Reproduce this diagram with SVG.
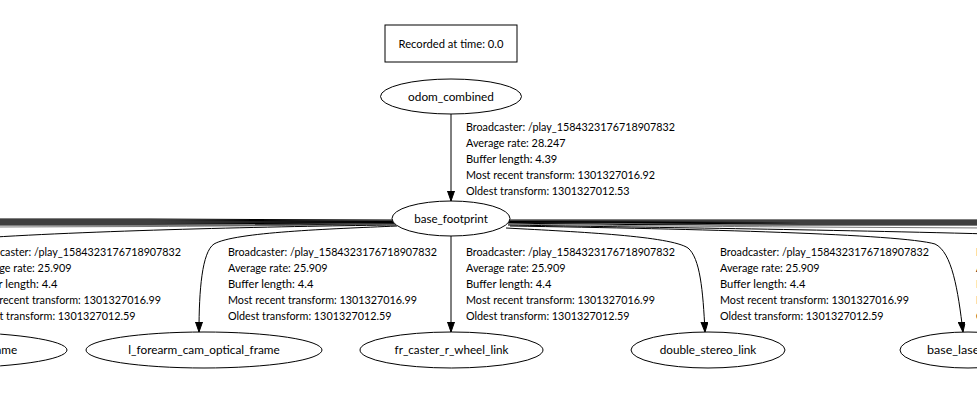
<svg xmlns="http://www.w3.org/2000/svg" width="977" height="404" viewBox="0 0 977 404">
<style>
text{font-family:Lato,"Noto Sans","Liberation Sans",sans-serif;font-size:12px;fill:#000}
.c{text-anchor:middle}
.n{fill:#fff;stroke:#000;stroke-width:1}
.e{fill:none;stroke:#000;stroke-width:1}
.b{fill:none;stroke:#000;stroke-width:1.1}
.g{fill:none;stroke:#555;stroke-width:0.8}
</style>
<defs>
<marker id="ah" markerUnits="userSpaceOnUse" markerWidth="10" markerHeight="8" refX="10" refY="3.5" orient="auto">
<path d="M0,0 L10,3.5 L0,7 z" fill="#000" stroke="#000" stroke-width="1"/>
</marker>
</defs>
<rect width="977" height="404" fill="#fff"/>
<g id="connectors">
<path class="e" d="M451,114 L451,201" marker-end="url(#ah)"/>
<g id="bundle-left">
<path class="b" d="M394,220 C330,220 250,219 150,219 L-10,219"/>
<path class="b" d="M394,221 C330,221 250,220 150,220 L-10,220"/>
<path class="b" d="M394,221.5 C330,221.5 250,221 150,221 L-10,221"/>
<path class="b" d="M394,222 C330,222 250,222 150,222 L-10,222"/>
<path class="b" d="M394,222.5 C330,223 250,223 150,223 L-10,223"/>
<path class="b" d="M394,223 C330,224 250,224 150,224 L-10,224"/>
<path class="b" d="M394,223.5 C330,225 250,225 150,225 L-10,225"/>
<path class="g" d="M395,224 C330,225 250,226 150,226.5 L-10,227"/>
<path class="e" d="M396,225 C300,226 100,230 -20,238"/>
</g>
<g id="bundle-right">
<path class="b" d="M508,220 C570,220 650,220 800,220 L987,220"/>
<path class="b" d="M508,221 C570,221 650,221 800,221 L987,221"/>
<path class="b" d="M508,221.5 C570,221.5 650,222 800,222 L987,222"/>
<path class="b" d="M508,222 C570,222 650,223 800,223 L987,223"/>
<path class="b" d="M508,222.5 C570,223 650,224 800,224 L987,224"/>
<path class="b" d="M508,223 C570,224 650,225 800,225 L987,225"/>
<path class="g" d="M508,224 C570,225 650,226 800,227 L987,228"/>
<path class="e" d="M508,225 C620,227 800,229 990,234"/>
</g>
<path class="e" d="M397,226 C330,229 235,232 214,244 C202,252 199,290 199,332" marker-end="url(#ah)"/>
<path class="e" d="M451,236 L451,332" marker-end="url(#ah)"/>
<path class="e" d="M506,228 C580,232 670,236 688,248 C700,258 703,290 705,332" marker-end="url(#ah)"/>
<path class="e" d="M510,226 C700,229 900,234 935,244 C952,252 958,290 963,332" marker-end="url(#ah)"/>
</g>
<g id="labels">
<g id="label-odom">
<text x="466" y="131" textLength="209" lengthAdjust="spacingAndGlyphs">Broadcaster: /play_1584323176718907832</text>
<text x="466" y="147" textLength="99.6" lengthAdjust="spacingAndGlyphs">Average rate: 28.247</text>
<text x="466" y="163" textLength="91.3" lengthAdjust="spacingAndGlyphs">Buffer length: 4.39</text>
<text x="466" y="179" textLength="189" lengthAdjust="spacingAndGlyphs">Most recent transform: 1301327016.92</text>
<text x="466" y="195" textLength="163.5" lengthAdjust="spacingAndGlyphs">Oldest transform: 1301327012.53</text>
</g>
<g id="label-1">
<text x="-28" y="256" textLength="209" lengthAdjust="spacingAndGlyphs">Broadcaster: /play_1584323176718907832</text>
<text x="-28" y="272" textLength="99.6" lengthAdjust="spacingAndGlyphs">Average rate: 25.909</text>
<text x="-28" y="288" textLength="85.4" lengthAdjust="spacingAndGlyphs">Buffer length: 4.4</text>
<text x="-28" y="304" textLength="189" lengthAdjust="spacingAndGlyphs">Most recent transform: 1301327016.99</text>
<text x="-28" y="320" textLength="163.5" lengthAdjust="spacingAndGlyphs">Oldest transform: 1301327012.59</text>
</g>
<g id="label-2">
<text x="228" y="256" textLength="209" lengthAdjust="spacingAndGlyphs">Broadcaster: /play_1584323176718907832</text>
<text x="228" y="272" textLength="99.6" lengthAdjust="spacingAndGlyphs">Average rate: 25.909</text>
<text x="228" y="288" textLength="85.4" lengthAdjust="spacingAndGlyphs">Buffer length: 4.4</text>
<text x="228" y="304" textLength="189" lengthAdjust="spacingAndGlyphs">Most recent transform: 1301327016.99</text>
<text x="228" y="320" textLength="163.5" lengthAdjust="spacingAndGlyphs">Oldest transform: 1301327012.59</text>
</g>
<g id="label-3">
<text x="466" y="256" textLength="209" lengthAdjust="spacingAndGlyphs">Broadcaster: /play_1584323176718907832</text>
<text x="466" y="272" textLength="99.6" lengthAdjust="spacingAndGlyphs">Average rate: 25.909</text>
<text x="466" y="288" textLength="85.4" lengthAdjust="spacingAndGlyphs">Buffer length: 4.4</text>
<text x="466" y="304" textLength="189" lengthAdjust="spacingAndGlyphs">Most recent transform: 1301327016.99</text>
<text x="466" y="320" textLength="163.5" lengthAdjust="spacingAndGlyphs">Oldest transform: 1301327012.59</text>
</g>
<g id="label-4">
<text x="720" y="256" textLength="209" lengthAdjust="spacingAndGlyphs">Broadcaster: /play_1584323176718907832</text>
<text x="720" y="272" textLength="99.6" lengthAdjust="spacingAndGlyphs">Average rate: 25.909</text>
<text x="720" y="288" textLength="85.4" lengthAdjust="spacingAndGlyphs">Buffer length: 4.4</text>
<text x="720" y="304" textLength="189" lengthAdjust="spacingAndGlyphs">Most recent transform: 1301327016.99</text>
<text x="720" y="320" textLength="163.5" lengthAdjust="spacingAndGlyphs">Oldest transform: 1301327012.59</text>
</g>
<g id="label-5">
<text x="976" y="256" textLength="209" lengthAdjust="spacingAndGlyphs">Broadcaster: /play_1584323176718907832</text>
<text x="976" y="272" textLength="99.6" lengthAdjust="spacingAndGlyphs">Average rate: 25.909</text>
<text x="976" y="288" textLength="85.4" lengthAdjust="spacingAndGlyphs">Buffer length: 4.4</text>
<text x="976" y="304" textLength="189" lengthAdjust="spacingAndGlyphs">Most recent transform: 1301327016.99</text>
<text x="976" y="320" textLength="163.5" lengthAdjust="spacingAndGlyphs">Oldest transform: 1301327012.59</text>
</g>
</g>
<g id="recorded">
<rect class="n" x="385" y="25" width="132" height="37"/>
<text class="c" x="451" y="48" textLength="105" lengthAdjust="spacingAndGlyphs">Recorded at time: 0.0</text>
</g>
<g id="odom_combined">
<ellipse class="n" cx="451" cy="96.5" rx="70.5" ry="17.5"/>
<text class="c" x="451" y="101" textLength="85.8" lengthAdjust="spacingAndGlyphs">odom_combined</text>
</g>
<g id="base_footprint">
<ellipse class="n" cx="451" cy="218.5" rx="59" ry="17.5"/>
<text class="c" x="451" y="223" textLength="73.6" lengthAdjust="spacingAndGlyphs">base_footprint</text>
</g>
<g id="r_forearm_cam_optical_frame">
<ellipse class="n" cx="-59" cy="350" rx="126" ry="18"/>
<text class="c" x="-59" y="354" textLength="152.4" lengthAdjust="spacingAndGlyphs">r_forearm_cam_optical_frame</text>
</g>
<g id="l_forearm_cam_optical_frame">
<ellipse class="n" cx="204" cy="350" rx="118" ry="18"/>
<text class="c" x="204" y="354" textLength="151.4" lengthAdjust="spacingAndGlyphs">l_forearm_cam_optical_frame</text>
</g>
<g id="fr_caster_r_wheel_link">
<ellipse class="n" cx="451.5" cy="350" rx="91.5" ry="18"/>
<text class="c" x="451.5" y="354" textLength="113.8" lengthAdjust="spacingAndGlyphs">fr_caster_r_wheel_link</text>
</g>
<g id="double_stereo_link">
<ellipse class="n" cx="708" cy="350" rx="77" ry="18"/>
<text class="c" x="708" y="354" textLength="96.6" lengthAdjust="spacingAndGlyphs">double_stereo_link</text>
</g>
<g id="base_laser_link">
<ellipse class="n" cx="968" cy="350" rx="68" ry="18"/>
<text class="c" x="968" y="354" textLength="82" lengthAdjust="spacingAndGlyphs">base_laser_link</text>
</g>
</svg>
